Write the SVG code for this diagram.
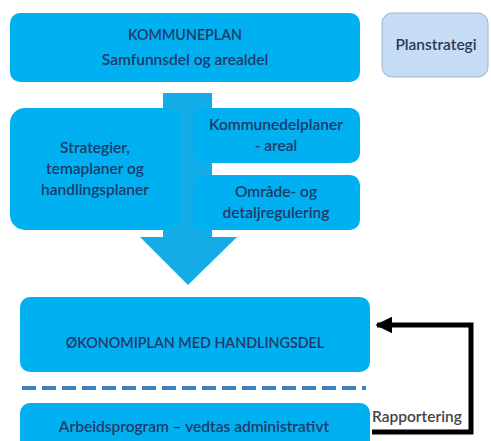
<svg xmlns="http://www.w3.org/2000/svg" width="491" height="441" viewBox="0 0 491 441">
<defs>
<style>
.box{fill:#00B0F0;}
.t{font-family:Lato,"Open Sans","Liberation Sans",sans-serif;font-size:15.5px;fill:#1F3A68;text-anchor:middle;font-weight:600;}
.c{font-size:14.3px;}
.g{font-family:Lato,"Open Sans","Liberation Sans",sans-serif;font-size:15.5px;fill:#444;font-weight:600;}
</style>
<marker id="ah" viewBox="0 0 10 10" refX="9" refY="5" markerWidth="3.4" markerHeight="3.4" orient="auto" markerUnits="strokeWidth">
<path d="M0,0 L10,5 L0,10 Z" fill="#000"/>
</marker>
</defs>
<rect width="491" height="441" fill="#fff"/>
<g id="flow-arrow">
<path d="M163,93 L212,93 L212,237 L237,237 L188,285 L140,237 L163,237 Z" fill="#14ACE6"/>
</g>
<g id="kommuneplan">
<rect class="box" x="10" y="13" width="350" height="69" rx="10"/>
<text class="t c" x="185" y="40">KOMMUNEPLAN</text>
<text class="t" x="185" y="65">Samfunnsdel og arealdel</text>
</g>
<g id="planstrategi">
<rect x="382" y="13" width="106" height="64" rx="10" fill="#C6DCF4" stroke="#9AB4D4" stroke-width="1"/>
<text class="g" x="436" y="50" text-anchor="middle" style="fill:#2a3a55">Planstrategi</text>
</g>
<g id="strategier">
<rect class="box" x="10" y="108" width="171" height="122" rx="15"/>
<text class="t" x="95" y="153">Strategier,</text>
<text class="t" x="95" y="174">temaplaner og</text>
<text class="t" x="95" y="195">handlingsplaner</text>
</g>
<g id="kommunedelplaner">
<rect class="box" x="193" y="108" width="167" height="55" rx="10"/>
<text class="t" x="276" y="130">Kommunedelplaner</text>
<text class="t" x="276" y="151">- areal</text>
</g>
<g id="omrade">
<rect class="box" x="193" y="175" width="167" height="55" rx="10"/>
<text class="t" x="276" y="197">Område- og</text>
<text class="t" x="276" y="218">detaljregulering</text>
</g>
<g id="okonomiplan">
<rect class="box" x="20" y="297" width="350" height="75" rx="10"/>
<text class="t c" x="195" y="348">ØKONOMIPLAN MED HANDLINGSDEL</text>
</g>
<g id="separator">
<line x1="22" y1="388" x2="366" y2="388" stroke="#3F80BE" stroke-width="4" stroke-dasharray="14,6"/>
</g>
<g id="arbeidsprogram">
<rect class="box" x="20" y="403" width="350" height="50" rx="10"/>
<text class="t" x="194" y="432">Arbeidsprogram – vedtas administrativt</text>
</g>
<g id="connectors">
<path d="M372,432 L471,432 L471,325 L377,325" fill="none" stroke="#000" stroke-width="5" marker-end="url(#ah)"/>
<text class="g" x="372" y="422">Rapportering</text>
</g>
</svg>
